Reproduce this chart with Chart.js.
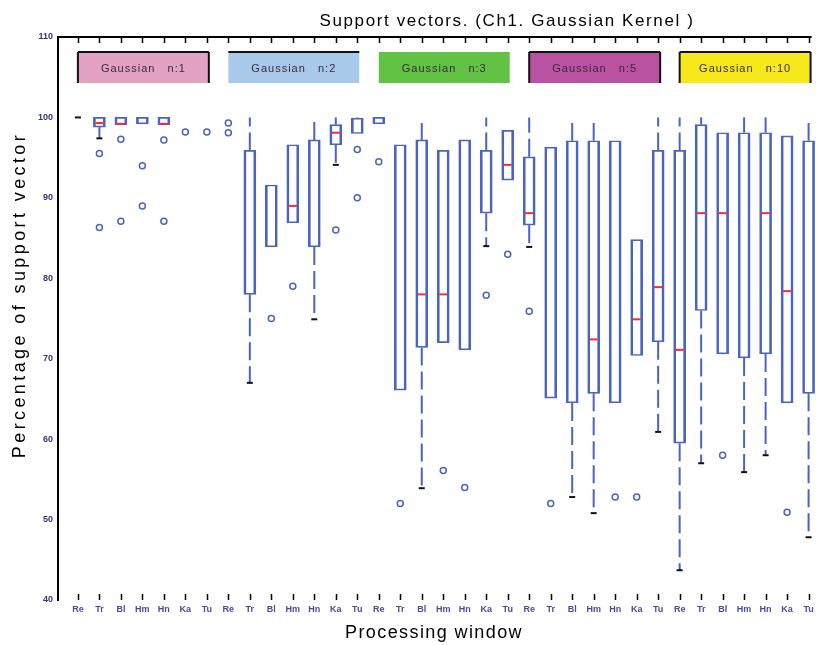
<!DOCTYPE html>
<html>
<head>
<meta charset="utf-8">
<script src="https://cdn.jsdelivr.net/npm/chart.js@4.4.1/dist/chart.umd.min.js"></script>
<style>
  html, body { margin: 0; padding: 0; background: #fff; }
  #wrap { width: 832px; height: 645px; }
</style>
</head>
<body>
<div id="wrap"><canvas id="svChart"></canvas></div>
<script>
// processing windows, repeated for every kernel setting
const windows = ['Re', 'Tr', 'Bl', 'Hm', 'Hn', 'Ka', 'Tu'];
const kernels = ['Gaussian   n:1', 'Gaussian   n:2', 'Gaussian   n:3', 'Gaussian   n:5', 'Gaussian   n:10'];
const kernelColors = ['#e2a2c4', '#a9c9ea', '#62c243', '#ba52a2', '#f7e81c'];
const categories = kernels.flatMap(() => windows);

const yTicks = [40, 50, 60, 70, 80, 90, 100, 110];

// box plot statistics per category (null median = no median mark)
const whiskerLow = [
  100, 97.4, 99.1, 99.2, 99.1, 100, 100,
  100, 67.0, 83.9, 86.9, 74.9, 94.1, 98.0,
  99.2, 66.1, 53.9, 72.0, 71.1, 84.0, 92.2,
  83.9, 65.1, 52.8, 50.8, 64.5, 70.4, 60.9,
  43.7, 57.0, 70.6, 55.9, 58.0, 64.5, 47.8
];
const q1 = [
  100, 98.8, 99.1, 99.2, 99.1, 100, 100,
  100, 78.0, 83.9, 86.9, 83.9, 96.6, 98.0,
  99.2, 66.1, 71.4, 72.0, 71.1, 88.1, 92.2,
  86.6, 65.1, 64.5, 65.7, 64.5, 70.4, 72.1,
  59.5, 76.0, 70.6, 70.1, 70.6, 64.5, 65.7
];
const median = [
  null, 99.3, 99.2, null, 99.2, null, null,
  null, null, null, 89.0, null, 98.1, null,
  null, null, 78.0, 78.0, null, null, 94.1,
  88.1, null, null, 72.4, null, 74.9, 78.9,
  71.1, 88.1, 88.1, null, 88.1, 78.4, null
];
const q3 = [
  100, 100, 100, 100, 100, 100, 100,
  100, 95.9, 91.6, 96.6, 97.2, 99.1, 99.9,
  100, 96.6, 97.2, 95.9, 97.2, 95.9, 98.4,
  95.1, 96.3, 97.1, 97.1, 97.1, 84.8, 95.9,
  95.9, 99.1, 98.1, 98.1, 98.1, 97.7, 97.1
];
const whiskerHigh = [
  100, 100, 100, 100, 100, 100, 100,
  100, 100, 91.6, 96.6, 99.5, 100, 100,
  100, 96.6, 99.3, 95.9, 97.2, 100, 98.4,
  100, 96.3, 99.3, 99.3, 97.1, 84.8, 100,
  100, 100, 98.1, 100, 100, 97.7, 99.3
];
const outliers = [
  [], [95.5, 86.3], [97.3, 87.1], [94.0, 89.0], [97.2, 87.1], [98.2], [98.2],
  [99.3, 98.1], [], [75.0], [79.0], [], [86.0], [96.0, 90.0],
  [94.5], [52.0], [], [56.1], [54.0], [77.9], [83.0],
  [75.9], [52.0], [], [], [52.8], [52.8], [],
  [], [], [58.0], [], [], [50.9], []
];

const BLUE = '#4a64c0';
const RED = '#ff2a2a';
const FONT = "'Liberation Sans', Arial, sans-serif";

// whiskers, caps, frame, kernel headers and titles
const boxExtras = {
  id: 'boxExtras',
  beforeDatasetsDraw(chart) {
    const { ctx, scales: { x, y } } = chart;
    ctx.save();
    ctx.strokeStyle = BLUE;
    ctx.lineWidth = 2;
    ctx.setLineDash([18, 6]);
    categories.forEach((_, i) => {
      const px = x.getPixelForValue(i);
      if (whiskerHigh[i] > q3[i]) {
        ctx.beginPath();
        ctx.moveTo(px, y.getPixelForValue(q3[i]));
        ctx.lineTo(px, y.getPixelForValue(whiskerHigh[i]));
        ctx.stroke();
      }
      if (whiskerLow[i] < q1[i]) {
        ctx.beginPath();
        ctx.moveTo(px, y.getPixelForValue(q1[i]));
        ctx.lineTo(px, y.getPixelForValue(whiskerLow[i]));
        ctx.stroke();
      }
    });
    ctx.setLineDash([]);
    // lower whisker caps
    ctx.strokeStyle = '#111';
    categories.forEach((_, i) => {
      if (whiskerLow[i] < q1[i] || i === 0) {
        const px = x.getPixelForValue(i);
        const py = y.getPixelForValue(whiskerLow[i]);
        ctx.beginPath();
        ctx.moveTo(px - 3, py);
        ctx.lineTo(px + 3, py);
        ctx.stroke();
      }
    });
    ctx.restore();
  },
  afterDraw(chart) {
    const { ctx, chartArea: area, scales: { x } } = chart;
    ctx.save();
    // top frame line and inward ticks
    ctx.strokeStyle = '#000';
    ctx.lineWidth = 2;
    ctx.beginPath();
    ctx.moveTo(area.left, area.top);
    ctx.lineTo(x.getPixelForValue(categories.length - 1) + 3, area.top);
    ctx.stroke();
    ctx.lineWidth = 1.5;
    categories.forEach((_, i) => {
      const px = Math.round(x.getPixelForValue(i)) + 0.5;
      ctx.beginPath();
      ctx.moveTo(px, area.top);
      ctx.lineTo(px, area.top + 6);
      ctx.moveTo(px, area.bottom);
      ctx.lineTo(px, area.bottom - 6);
      ctx.stroke();
    });

    // kernel headers
    kernels.forEach((name, g) => {
      const x0 = x.getPixelForValue(g * 7);
      const x1 = x.getPixelForValue(g * 7 + 6) + 2;
      const top = area.top + 15;
      const h = 31;
      ctx.fillStyle = kernelColors[g];
      ctx.fillRect(x0, top, x1 - x0, h);
      ctx.strokeStyle = '#111';
      ctx.lineWidth = 2;
      ctx.beginPath();
      if (g !== 2) {
        ctx.moveTo(x0, top);
        ctx.lineTo(x1, top);
      }
      if (g !== 1 && g !== 2) {
        ctx.moveTo(x0, top);
        ctx.lineTo(x0, top + h);
        ctx.moveTo(x1, top);
        ctx.lineTo(x1, top + h);
      }
      ctx.stroke();
      ctx.fillStyle = '#3a2a3a';
      ctx.font = '11px ' + FONT;
      ctx.letterSpacing = '1px';
      ctx.textAlign = 'center';
      ctx.textBaseline = 'middle';
      ctx.fillText(name, (x0 + x1) / 2, top + h / 2 + 1);
    });

    // titles
    ctx.fillStyle = '#000';
    ctx.textAlign = 'center';
    ctx.textBaseline = 'middle';
    ctx.font = '17px ' + FONT;
    ctx.letterSpacing = '1.6px';
    ctx.fillText('Support vectors. (Ch1. Gaussian Kernel )', 507, 21);
    ctx.font = '18px ' + FONT;
    ctx.letterSpacing = '1.4px';
    ctx.fillText('Processing window', 434, 633);
    ctx.translate(20, 295);
    ctx.rotate(-Math.PI / 2);
    ctx.letterSpacing = '3.4px';
    ctx.fillText('Percentage of support vector', 0, 0);
    ctx.restore();
  }
};

new Chart(document.getElementById('svChart'), {
  data: {
    datasets: [
      {
        type: 'bar',
        data: q1.map((lo, i) => ({ x: i, y: [lo, q3[i]] })),
        backgroundColor: 'rgba(0,0,0,0)',
        borderColor: BLUE,
        borderWidth: { left: 2, right: 2, top: 1, bottom: 1 },
        borderSkipped: false,
        barThickness: 12,
        order: 3
      },
      {
        type: 'line',
        data: median.map((m, i) => ({ x: i, y: m })),
        showLine: false,
        pointStyle: 'line',
        pointRadius: 4,
        borderColor: RED,
        borderWidth: 2,
        order: 1
      },
      {
        type: 'line',
        data: outliers.flatMap((list, i) => list.map(v => ({ x: i, y: v }))),
        showLine: false,
        pointStyle: 'circle',
        pointRadius: 3,
        borderColor: BLUE,
        backgroundColor: '#fff',
        borderWidth: 1.5,
        order: 2
      }
    ]
  },
  options: {
    responsive: true,
    maintainAspectRatio: false,
    animation: false,
    layout: { padding: { top: 37, right: 2, left: 0, bottom: 0 } },
    plugins: { legend: { display: false }, tooltip: { enabled: false } },
    scales: {
      x: {
        type: 'linear',
        offset: false,
        min: -0.926,
        max: 34.81,
        grid: { display: false, drawTicks: false, offset: false },
        border: { display: false },
        afterFit: (s) => { s.height = 45; },
        afterBuildTicks: (s) => { s.ticks = categories.map((_, i) => ({ value: i })); },
        ticks: {
          autoSkip: false,
          maxRotation: 0,
          padding: 4,
          color: '#4b4a9c',
          font: { family: FONT, size: 9, weight: 'bold' },
          callback: (v) => categories[v]
        }
      },
      y: {
        min: 40,
        max: 110,
        grid: { display: false, drawTicks: false },
        border: { display: true, color: '#000', width: 2 },
        afterFit: (s) => { s.width = 58; },
        afterBuildTicks: (s) => { s.ticks = yTicks.map(v => ({ value: v })); },
        ticks: {
          padding: 5,
          color: '#35357a',
          font: { family: FONT, size: 9, weight: 'bold' }
        }
      }
    }
  },
  plugins: [boxExtras]
});
</script>
</body>
</html>
